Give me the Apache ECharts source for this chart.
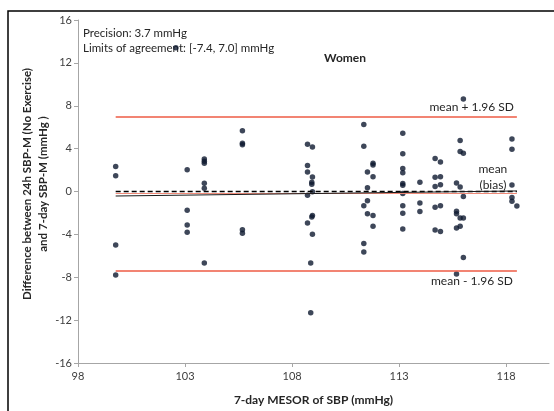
<!DOCTYPE html>
<html>
<head>
<meta charset="utf-8">
<script src="https://cdn.jsdelivr.net/npm/echarts@6/dist/echarts.min.js"></script>
<style>
  html, body { margin: 0; padding: 0; background: #fff; }
  #chart { width: 554px; height: 411px; }
</style>
</head>
<body>
<div id="chart"></div>
<script>
// 7-day MESOR of SBP (mmHg), one entry per woman
const mesor = [
  99.76, 99.76, 99.76, 99.76,
  102.57,
  103.1, 103.1, 103.1, 103.1,
  103.9, 103.9, 103.9, 103.9, 103.9, 103.9,
  105.68, 105.68, 105.68, 105.68, 105.68,
  108.72, 108.72, 108.72, 108.72, 108.72, 108.87, 108.87,
  108.95, 108.95, 108.92, 108.92, 108.95, 108.95, 108.92, 108.95,
  111.35, 111.35, 111.35, 111.35, 111.35,
  111.52, 111.52, 111.52, 111.52,
  111.78, 111.78, 111.78, 111.78, 111.78,
  113.17, 113.17, 113.17, 113.17, 113.17, 113.17, 113.17, 113.17, 113.17, 113.17,
  113.97, 113.97, 113.97,
  114.68, 114.68, 114.68, 114.68, 114.68,
  114.93, 114.93, 114.93, 114.93, 114.93,
  115.68, 115.68, 115.68, 115.68, 115.68,
  115.85, 115.85, 115.85, 115.85, 115.85, 116.0,
  116.0, 116.0, 116.0, 116.0,
  118.27, 118.27, 118.27, 118.27, 118.27,
  118.5
];
// Difference between 24h SBP-M (No Exercise) and 7-day SBP-M (mmHg)
const diff = [
  2.33, 1.47, -5.0, -7.8,
  13.4,
  2.02, -1.75, -3.13, -3.8,
  3.03, 2.82, 2.63, 0.77, 0.31, -6.68,
  5.67, 4.5, 4.35, -3.56, -3.9,
  4.41, 2.42, 1.81, -0.34, -2.94, -6.68, -11.31,
  4.14, 1.35, 0.86, 0.67, -0.03, -2.24, -2.39, -3.98,
  6.25, 4.23, -1.32, -4.84, -5.64,
  1.81, 0.34, -0.86, -2.08,
  2.64, 2.48, 1.38, -2.24, -3.25,
  5.43, 3.52, 2.15, 1.75, 0.74, 0.58, -0.18, -1.32, -2.02, -3.49,
  0.86, -1.07, -1.87,
  3.07, 1.32, 0.46, -1.47, -3.59,
  2.76, 1.38, 0.64, -1.32, -3.74,
  0.8, -1.84, -2.08, -3.4, -7.69,
  4.75, 3.74, 0.43, -2.48, -3.25, -6.16,
  8.64, 3.56, -0.46, -2.48,
  4.9, 3.95, 0.61, -0.55, -0.92,
  -1.35
];

// Summary statistics
const limitsOfAgreement = [-7.4, 7.0];
const meanBias = -0.2;
const precision = 3.7;
const zeroLine = 0;
// Fitted trend of the differences, value at the lowest and highest MESOR
const trendEnds = [-0.42, 0.05];

// Axis ticks
const xTicks = [98, 103, 108, 113, 118];
const yTicks = [-16, -12, -8, -4, 0, 4, 8, 12, 16];

const points = mesor.map((x, i) => [x, diff[i]]);
const xLo = Math.min(...mesor);
const xHi = Math.max(...mesor);

const FONT = 'Lato';
const LIMIT_RED = '#ee5b45';
const INK = '#262626';

const chart = echarts.init(document.getElementById('chart'), null, { renderer: 'canvas' });

chart.setOption({
  animation: false,
  backgroundColor: '#ffffff',
  textStyle: { fontFamily: FONT },
  grid: { left: 78, right: 5, top: 20, bottom: 44, containLabel: false },
  xAxis: {
    type: 'value',
    min: 98,
    max: 120,
    interval: 5,
    name: '7-day MESOR of SBP (mmHg)',
    nameLocation: 'middle',
    nameGap: 31,
    nameTextStyle: { fontFamily: FONT, fontWeight: 'bold', fontSize: 12, color: INK },
    axisLine: { onZero: false, lineStyle: { color: '#a6a6a6', width: 1 } },
    axisTick: { show: true, length: 4, customValues: xTicks, lineStyle: { color: '#a6a6a6' } },
    axisLabel: { customValues: xTicks, fontFamily: FONT, fontSize: 11, color: '#404040', margin: 8 },
    splitLine: { show: false }
  },
  yAxis: {
    type: 'value',
    min: yTicks[0],
    max: yTicks[yTicks.length - 1],
    interval: 4,
    axisLine: { show: true, lineStyle: { color: '#a6a6a6', width: 1 } },
    axisTick: { show: true, length: 4, lineStyle: { color: '#a6a6a6' } },
    axisLabel: { fontFamily: FONT, fontSize: 11, color: '#404040', margin: 6 },
    splitLine: { show: false }
  },
  series: [
    {
      name: 'limits',
      type: 'line',
      data: [],
      silent: true,
      markLine: {
        symbol: 'none',
        silent: true,
        animation: false,
        data: [
          [
            { coord: [xLo, limitsOfAgreement[1]], lineStyle: { color: LIMIT_RED, width: 1.6, type: 'solid' },
              label: { show: true, position: 'insideEndTop', formatter: 'mean + 1.96 SD', distance: 3,
                fontFamily: FONT, fontSize: 12, color: INK } },
            { coord: [xHi, limitsOfAgreement[1]] }
          ],
          [
            { coord: [xLo, limitsOfAgreement[0]], lineStyle: { color: LIMIT_RED, width: 1.6, type: 'solid' },
              label: { show: true, position: 'insideEndBottom', formatter: 'mean - 1.96 SD', distance: 4,
                fontFamily: FONT, fontSize: 12, color: INK } },
            { coord: [xHi, limitsOfAgreement[0]] }
          ],
          [
            { coord: [xLo, meanBias], lineStyle: { color: '#f08a78', width: 1, type: 'solid' },
              label: { show: true, position: 'insideEndTop', formatter: 'mean\n(bias)', align: 'center',
                lineHeight: 16, distance: [24, 1], fontFamily: FONT, fontSize: 12, color: INK } },
            { coord: [xHi, meanBias] }
          ],
          [
            { coord: [xLo, zeroLine], lineStyle: { color: '#000000', width: 1.3, type: [5, 3] }, label: { show: false } },
            { coord: [xHi, zeroLine] }
          ],
          [
            { coord: [xLo, trendEnds[0]], lineStyle: { color: '#1a1a1a', width: 1, type: 'solid' }, label: { show: false } },
            { coord: [xHi, trendEnds[1]] }
          ]
        ]
      }
    },
    {
      name: 'Women',
      type: 'scatter',
      data: points,
      symbol: 'circle',
      symbolSize: 5.5,
      itemStyle: { color: '#0e1930' },
      z: 3
    }
  ],
  graphic: [
    {
      type: 'rect',
      shape: { x: 8, y: 11, width: 600, height: 500 },
      style: { fill: null, stroke: '#000000', lineWidth: 1.5 },
      silent: true
    },
    {
      type: 'text',
      x: 35, y: 184,
      rotation: Math.PI / 2,
      style: {
        text: 'Difference between 24h SBP-M (No Exercise)\nand 7-day SBP-M (mmHg )',
        font: 'bold 11.5px Lato', fill: INK, align: 'center', verticalAlign: 'middle', lineHeight: 16
      }
    },
    {
      type: 'text',
      x: 83, y: 33,
      style: { text: 'Precision: ' + precision.toFixed(1) + ' mmHg', font: '11.5px Lato', fill: INK, verticalAlign: 'middle' }
    },
    {
      type: 'text',
      x: 83, y: 48,
      style: { text: 'Limits of agreement: [' + limitsOfAgreement[0].toFixed(1) + ', ' + limitsOfAgreement[1].toFixed(1) + '] mmHg',
        font: '11.5px Lato', fill: INK, verticalAlign: 'middle' }
    },
    {
      type: 'text',
      x: 345, y: 58,
      style: { text: 'Women', font: 'bold 12px Lato', fill: INK, align: 'center', verticalAlign: 'middle' }
    }
  ]
});
</script>
</body>
</html>
